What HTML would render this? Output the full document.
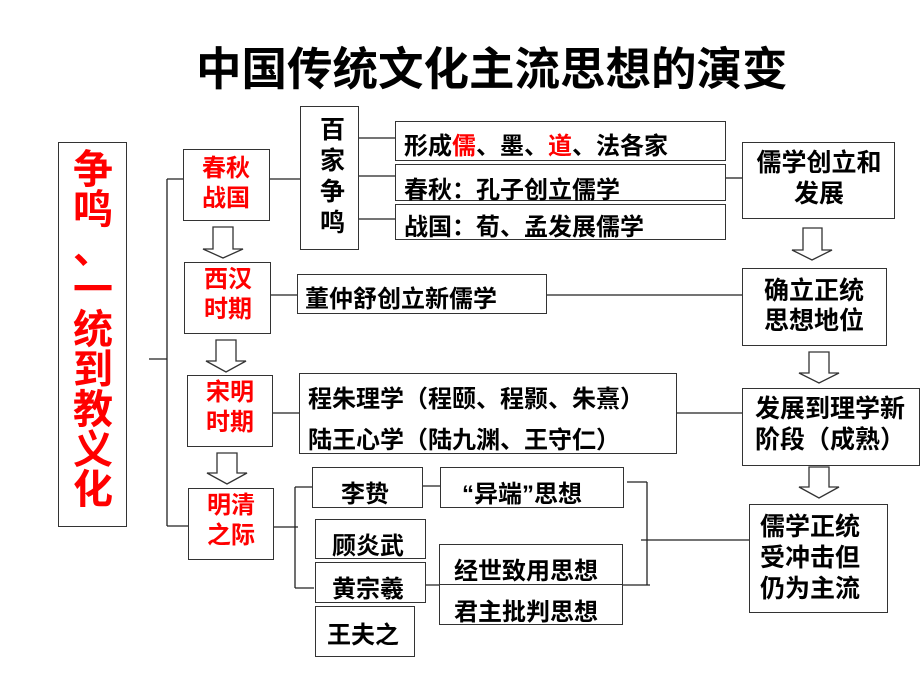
<!DOCTYPE html>
<html><head><meta charset="utf-8"><style>
body{margin:0;width:920px;height:690px;background:#fff;position:relative;overflow:hidden;font-family:"Liberation Sans","Noto Sans CJK SC",sans-serif;font-weight:bold;}
.b{position:absolute;border:1.5px solid #333;box-sizing:border-box;background:#fff;}
.t{position:absolute;white-space:nowrap;color:#000;}
.r{color:#f00;}
svg{position:absolute;left:0;top:0;}
</style></head><body>
<svg width="920" height="690">
<g stroke="#222" stroke-width="1.3" fill="none">
<line x1="149" y1="359" x2="167" y2="359"/>
<line x1="167" y1="179" x2="167" y2="526"/>
<line x1="167" y1="179" x2="184" y2="179"/>
<line x1="167" y1="526" x2="188" y2="526"/>
<line x1="264" y1="179" x2="300" y2="179"/>
<line x1="358" y1="138" x2="395" y2="138"/>
<line x1="358" y1="176" x2="395" y2="176"/>
<line x1="358" y1="219" x2="395" y2="219"/>
<line x1="726" y1="178" x2="742" y2="178"/>
<line x1="263" y1="295" x2="297" y2="295"/>
<line x1="547" y1="295" x2="742" y2="295"/>
<line x1="263" y1="413" x2="742" y2="413"/>
<line x1="262" y1="527" x2="298" y2="527"/>
<line x1="295" y1="487" x2="295" y2="588"/>
<line x1="295" y1="487" x2="312" y2="487"/>
<line x1="295" y1="588" x2="314" y2="588"/>
<line x1="408" y1="486" x2="443" y2="486"/>
<line x1="408" y1="585" x2="650" y2="585"/>
<line x1="627" y1="482" x2="647" y2="482"/>
<line x1="647" y1="482" x2="647" y2="585"/>
<line x1="641" y1="540" x2="749" y2="540"/>
</g>
<g stroke="#333" stroke-width="1.3" fill="#fff">
<polygon points="213,227 233,227 233,249 243,249 223,258 203,249 213,249"/>
<polygon points="216,340 236,340 236,361 246,361 226,372 206,361 216,361"/>
<polygon points="217,453 237,453 237,473 247,473 227,484 207,473 217,473"/>
<polygon points="803,228 822,228 822,250 832,250 812,260 792,250 803,250"/>
<polygon points="809,352 829,352 829,373 839,373 819,383 799,373 809,373"/>
<polygon points="809,467 829,467 829,487 839,487 819,498 799,487 809,487"/>
</g>
</svg>
<div class="t" style="left:196px;top:33px;font-size:45.5px;">中国传统文化主流思想的演变</div>

<div class="b" style="left:58px;top:142px;width:69px;height:385px;"></div>
<div class="t r" style="left:72px;top:150px;font-size:40px;line-height:40px;white-space:normal;width:42px;text-align:center;">争<br>鸣<br>、<br>一<br>统<br>到<br>教<br>义<br>化</div>

<div class="b" style="left:183px;top:149px;width:87px;height:72px;"></div>
<div class="t r" style="left:202px;top:154px;font-size:24px;line-height:30px;">春秋<br>战国</div>
<div class="b" style="left:300px;top:106px;width:59px;height:144px;"></div>
<div class="t" style="left:320px;top:115px;font-size:25px;line-height:31px;white-space:normal;width:28px;">百<br>家<br>争<br>鸣</div>
<div class="b" style="left:395px;top:121px;width:331px;height:40px;"></div>
<div class="t" style="left:404px;top:126px;font-size:24px;">形成<span class="r">儒</span>、墨、<span class="r">道</span>、法各家</div>
<div class="b" style="left:395px;top:164px;width:331px;height:37px;"></div>
<div class="t" style="left:404px;top:170px;font-size:24px;">春秋：孔子创立儒学</div>
<div class="b" style="left:395px;top:204px;width:331px;height:36px;"></div>
<div class="t" style="left:404px;top:207px;font-size:24px;">战国：荀、孟发展儒学</div>
<div class="b" style="left:742px;top:142px;width:153px;height:77px;"></div>
<div class="t" style="left:750px;top:148px;font-size:25px;line-height:31px;text-align:center;width:138px;">儒学创立和<br>发展</div>

<div class="b" style="left:184px;top:262px;width:87px;height:72px;"></div>
<div class="t r" style="left:204px;top:265px;font-size:24px;line-height:30px;">西汉<br>时期</div>
<div class="b" style="left:297px;top:274px;width:250px;height:40px;"></div>
<div class="t" style="left:305px;top:279px;font-size:24px;">董仲舒创立新儒学</div>
<div class="b" style="left:742px;top:268px;width:145px;height:78px;"></div>
<div class="t" style="left:764px;top:276px;font-size:25px;line-height:30px;">确立正统<br>思想地位</div>

<div class="b" style="left:187px;top:375px;width:86px;height:72px;"></div>
<div class="t r" style="left:206px;top:378px;font-size:24px;line-height:30px;">宋明<br>时期</div>
<div class="b" style="left:299px;top:373px;width:378px;height:81px;"></div>
<div class="t" style="left:308px;top:379px;font-size:24px;">程朱理学（程颐、程颢、朱熹）</div>
<div class="t" style="left:308px;top:420px;font-size:24px;">陆王心学（陆九渊、王守仁）</div>
<div class="b" style="left:742px;top:388px;width:178px;height:78px;"></div>
<div class="t" style="left:755px;top:394px;font-size:25px;line-height:31px;">发展到理学新<br>阶段（成熟）</div>

<div class="b" style="left:188px;top:488px;width:86px;height:72px;"></div>
<div class="t r" style="left:207px;top:491px;font-size:24px;line-height:30px;">明清<br>之际</div>
<div class="b" style="left:312px;top:467px;width:111px;height:41px;"></div>
<div class="t" style="left:341px;top:474px;font-size:24px;">李贽</div>
<div class="b" style="left:440px;top:467px;width:184px;height:41px;"></div>
<div class="t" style="left:462px;top:474px;font-size:24px;">“异端”思想</div>
<div class="b" style="left:315px;top:519px;width:111px;height:40px;"></div>
<div class="t" style="left:332px;top:526px;font-size:24px;">顾炎武</div>
<div class="b" style="left:315px;top:562px;width:111px;height:41px;"></div>
<div class="t" style="left:332px;top:569px;font-size:24px;">黄宗羲</div>
<div class="b" style="left:315px;top:606px;width:100px;height:51px;"></div>
<div class="t" style="left:327px;top:615px;font-size:24px;">王夫之</div>
<div class="b" style="left:439px;top:544px;width:184px;height:81px;"></div>
<div style="position:absolute;left:439px;top:584px;width:184px;border-top:1.3px solid #333;"></div>
<div class="t" style="left:454px;top:551px;font-size:24px;">经世致用思想</div>
<div class="t" style="left:454px;top:592px;font-size:24px;">君主批判思想</div>
<div class="b" style="left:749px;top:504px;width:139px;height:109px;"></div>
<div class="t" style="left:760px;top:512px;font-size:25px;line-height:31px;">儒学正统<br>受冲击但<br>仍为主流</div>
</body></html>
